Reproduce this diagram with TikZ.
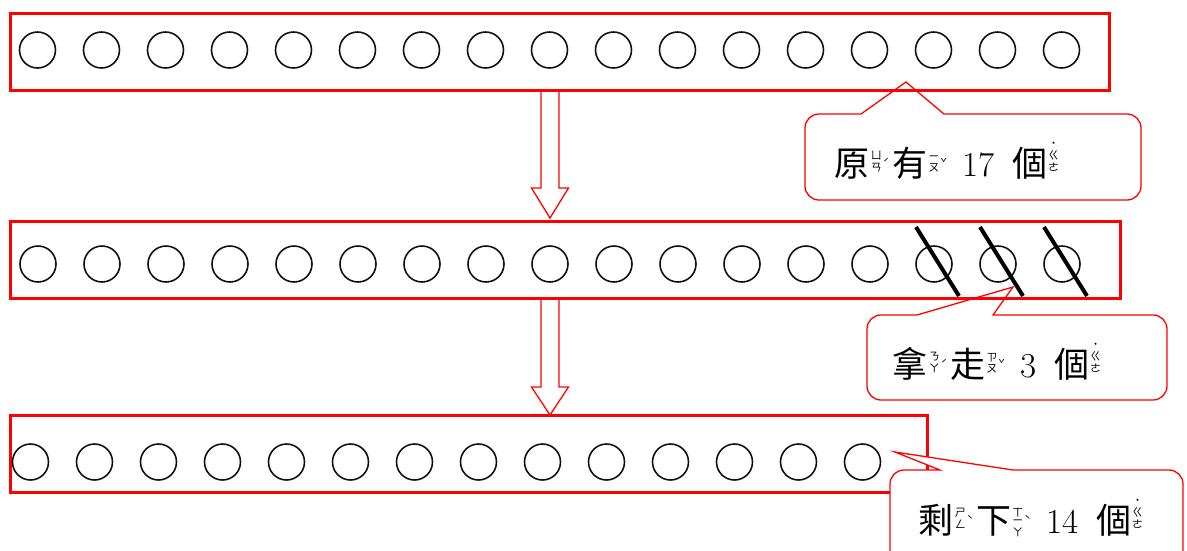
\documentclass[tikz,border=0pt]{standalone}
\usepackage{fontspec}
\newfontfamily\cjk{Noto Sans CJK TC}
\usetikzlibrary{calc}
\definecolor{trayred}{HTML}{FF0000}
\definecolor{beadink}{HTML}{111111}
\newcommand{\zyfont}{\cjk\fontsize{11}{11.5}\selectfont}
% character with its zhuyin stacked on the right, tone mark beside it
\newcommand{\zy}[4][5pt]{{\cjk #2}\kern1pt\raisebox{#1}{\zyfont\shortstack{#3}}\kern1pt\raisebox{9pt}{\zyfont #4}\kern3pt}
% neutral tone: dot above the stack
\newcommand{\zyq}[2]{{\cjk #1}\kern1pt\raisebox{5pt}{\zyfont\shortstack{˙\\#2}}}
\tikzset{
  tray/.style={draw=trayred,line width=3pt,minimum height=77pt,inner sep=0pt},
  bead/.style={circle,draw=beadink,line width=1.6pt,minimum size=36pt,inner sep=0pt},
  strike/.style={line width=4pt,draw=black},
  drop/.style={draw=trayred,line width=1.3pt,fill=white,line join=miter},
  bubble/.style={draw=trayred,line width=1.3pt,fill=white},
  say/.style={font=\fontsize{35}{40}\selectfont,inner sep=0pt},
}
\begin{document}
\begin{tikzpicture}[x=1pt,y=-1pt]
  \useasboundingbox (0,0) rectangle (1187,550);

  % block arrows between the trays
  \coordinate (drop1) at (550,90);
  \coordinate (drop2) at (550,298);
  \draw[drop] (drop1) -- ++(9,0) -- ++(0,98) -- ++(9.5,0) -- ++(-18.5,30)
    -- ++(-18.5,-30) -- ++(9.5,0) -- ++(0,-98) -- cycle;
  \draw[drop] (drop2) -- ++(9,0) -- ++(0,89) -- ++(9.5,0) -- ++(-18.5,28)
    -- ++(-18.5,-28) -- ++(9.5,0) -- ++(0,-89) -- cycle;

  % callouts for the first two trays
  \draw[bubble] (861,114) -- (906,82) -- (944,114) [rounded corners=14pt]
    -- (1141,114) -- (1141,200) -- (805,200) -- (805,114) [sharp corners] -- cycle;
  \draw[bubble] (917,315) -- (1013,287) -- (993,315) [rounded corners=14pt]
    -- (1167,315) -- (1167,400) -- (867,400) -- (867,315) [sharp corners] -- cycle;

  % the three trays
  \node[tray,minimum width=1099pt] (all)  at (559.5,51.5) {};
  \node[tray,minimum width=1110pt] (take) at (565,259.5) {};
  \node[tray,minimum width=917pt]  (left) at (468.5,454) {};

  \foreach \i in {1,...,17}
    \node[bead] (a\i) at ({37.5+64*(\i-1)},50) {};
  \foreach \i in {1,...,17}
    \node[bead] (b\i) at ({38+64*(\i-1)},264) {};
  \foreach \i in {1,...,14}
    \node[bead] (c\i) at ({30.5+64*(\i-1)},462) {};

  \foreach \i in {15,16,17}
    \draw[strike] ($(b\i)+(-18,-37)$) -- ($(b\i)+(25,32)$);

  % callout for the last tray sits over its corner
  \draw[bubble] (940,470) -- (895,452) -- (1013,470) [rounded corners=14pt]
    -- (1183,470) -- (1183,565) -- (890,565) -- (890,470) [sharp corners] -- cycle;

  \node[say] (had)  at (947,161)
    {\zy{原}{ㄩ\\ㄢ}{ˊ}\zy{有}{ㄧ\\ㄡ}{ˇ}\hspace{12pt}17\hspace{18pt}\zyq{個}{ㄍ\\ㄜ}};
  \node[say] (gone) at (997,362)
    {\zy{拿}{ㄋ\\ㄚ}{ˊ}\zy{走}{ㄗ\\ㄡ}{ˇ}\hspace{12pt}3\hspace{18pt}\zyq{個}{ㄍ\\ㄜ}};
  \node[say] (rest) at (1031,518)
    {\zy{剩}{ㄕ\\ㄥ}{ˋ}\zy[-3pt]{下}{ㄒ\\ㄧ\\ㄚ}{ˋ}\hspace{12pt}14\hspace{18pt}\zyq{個}{ㄍ\\ㄜ}};
\end{tikzpicture}
\end{document}
